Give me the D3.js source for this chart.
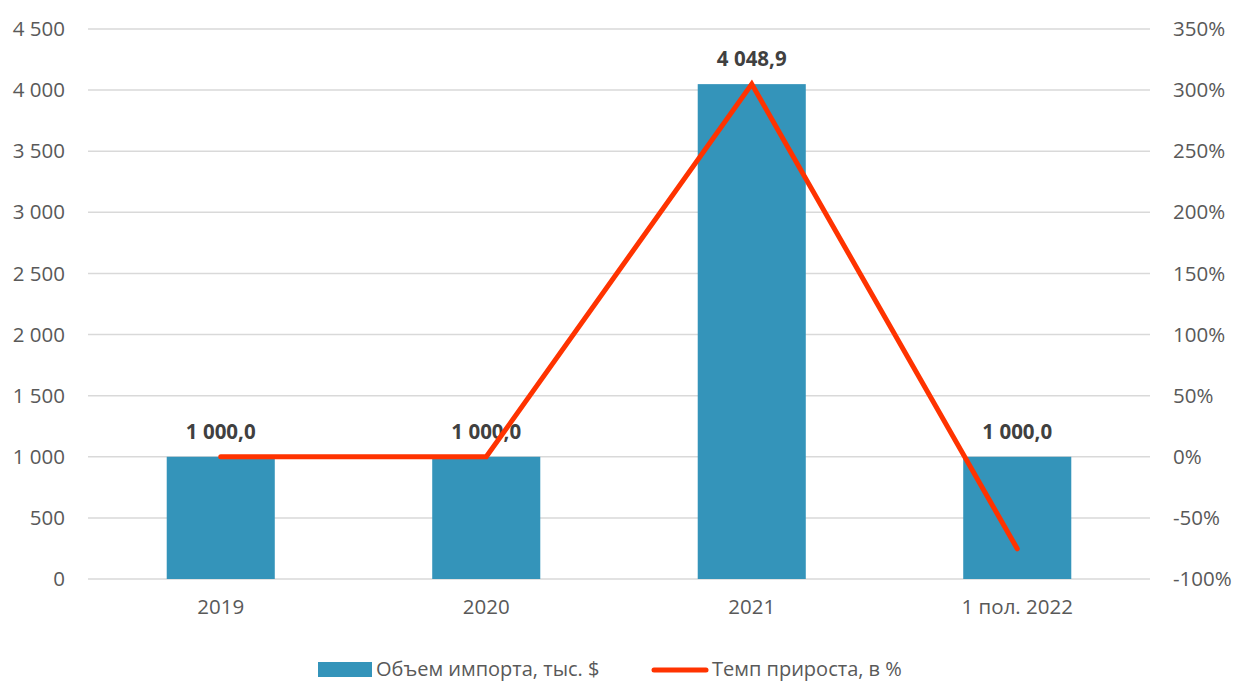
<!DOCTYPE html>
<html><head><meta charset="utf-8">
<script src="https://cdn.jsdelivr.net/npm/d3@7/dist/d3.min.js"></script>
<style>
html,body{margin:0;padding:0;background:#fff;}
svg{display:block;font-family:"Open Sans",sans-serif;}
</style></head>
<body><svg id="c" width="1235" height="682"></svg>
<script>
const categories = ["2019", "2020", "2021", "1 пол. 2022"];
const importVolume = [1000.0, 1000.0, 4048.9, 1000.0];
const growthRate = [0, 0, 304.9, -75.3];
const leftTicks = [0, 500, 1000, 1500, 2000, 2500, 3000, 3500, 4000, 4500];
const rightTicks = [-100, -50, 0, 50, 100, 150, 200, 250, 300, 350];
const seriesNames = ["Объем импорта, тыс. $", "Темп прироста, в %"];

const svg = d3.select("#c");
const L = 88, R = 1150, T = 29, B = 579;
const barColor = "#3494BA", lineColor = "#FF3300";

const x = d3.scaleBand().domain(categories).range([L, R]).paddingInner(0.593).paddingOuter(0.2965);
const yL = d3.scaleLinear().domain([0, 4500]).range([B, T]);
const yR = d3.scaleLinear().domain([-100, 350]).range([B, T]);

const loc = d3.formatLocale({decimal: ",", thousands: "\u00a0", grouping: [3], currency: ["", ""]});
const fInt = loc.format(",d");
const fDec = loc.format(",.1f");

// gridlines
svg.append("g").selectAll("line").data(leftTicks).join("line")
  .attr("x1", L).attr("x2", R)
  .attr("y1", d => yL(d)).attr("y2", d => yL(d))
  .attr("stroke", "#d9d9d9").attr("stroke-width", 1.5);

// left axis
const axL = svg.append("g").attr("transform", `translate(${L},0)`)
  .call(d3.axisLeft(yL).tickValues(leftTicks).tickFormat(fInt).tickSize(0).tickPadding(23));
axL.select(".domain").remove();
axL.selectAll("text").attr("fill", "#595959").style("font-size", "20.5px").style("font-family", "Open Sans");

// right axis
const axR = svg.append("g").attr("transform", `translate(${R},0)`)
  .call(d3.axisRight(yR).tickValues(rightTicks).tickFormat(d => d + "%").tickSize(0).tickPadding(23));
axR.select(".domain").remove();
axR.selectAll("text").attr("fill", "#595959").style("font-size", "20.5px").style("font-family", "Open Sans");

// x axis
const axX = svg.append("g").attr("transform", `translate(0,${B})`)
  .call(d3.axisBottom(x).tickSize(0).tickPadding(20));
axX.select(".domain").remove();
axX.selectAll("text").attr("fill", "#595959").style("font-size", "20.5px").style("font-family", "Open Sans");

// bars
svg.append("g").selectAll("rect").data(importVolume).join("rect")
  .attr("x", (d, i) => x(categories[i]))
  .attr("width", x.bandwidth())
  .attr("y", d => yL(d))
  .attr("height", d => yL(0) - yL(d))
  .attr("fill", barColor);

// bar labels
svg.append("g").selectAll("text").data(importVolume).join("text")
  .attr("x", (d, i) => x(categories[i]) + x.bandwidth() / 2)
  .attr("y", d => yL(d) - 18)
  .attr("text-anchor", "middle")
  .attr("fill", "#404040")
  .style("font-size", "20.5px").style("font-weight", "bold")
  .text(d => fDec(d));

// line
const line = d3.line()
  .x((d, i) => x(categories[i]) + x.bandwidth() / 2)
  .y(d => yR(d));
svg.append("path").datum(growthRate)
  .attr("d", line)
  .attr("fill", "none").attr("stroke", lineColor)
  .attr("stroke-width", 5).attr("stroke-linecap", "round");

// legend
const lg = svg.append("g");
lg.append("rect").attr("x", 318).attr("y", 662).attr("width", 54).attr("height", 15).attr("fill", barColor);
lg.append("text").attr("x", 376).attr("y", 676).attr("fill", "#595959")
  .style("font-size", "20px").text(seriesNames[0]);
lg.append("line").attr("x1", 654).attr("x2", 706).attr("y1", 670).attr("y2", 670)
  .attr("stroke", lineColor).attr("stroke-width", 5).attr("stroke-linecap", "round");
lg.append("text").attr("x", 712).attr("y", 676).attr("fill", "#595959")
  .style("font-size", "20px").text(seriesNames[1]);
</script>
</body></html>
